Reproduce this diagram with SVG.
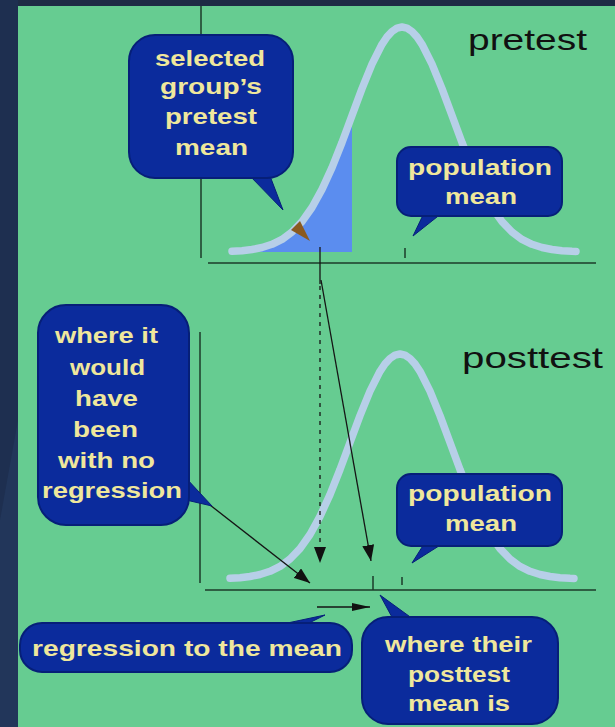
<svg xmlns="http://www.w3.org/2000/svg" xmlns:xlink="http://www.w3.org/1999/xlink" width="615" height="727" viewBox="0 0 615 727">
<style>
.box{fill:#0b2b9c;stroke:#061f78;stroke-width:2}
.tail{fill:#0b2b9c;stroke:#061f78;stroke-width:1}
.lbl{font-family:"Liberation Sans",Arial,sans-serif;font-weight:bold;font-size:22px;fill:#efe79c}
.ttl{font-family:"Liberation Sans",Arial,sans-serif;font-size:29px;fill:#111}
.axis{stroke:#1d3b2a;stroke-width:1.5;fill:none}
.bell{fill:none;stroke:#b7cfe8;stroke-width:7.5;stroke-linejoin:round;stroke-linecap:round}
.conn{stroke:#151515;stroke-width:1.3;fill:none}
</style>
<defs>
<marker id="ah" viewBox="0 0 16 12" refX="16" refY="6" markerWidth="16" markerHeight="12" markerUnits="userSpaceOnUse" orient="auto">
<path d="M0,0 L16,6 L0,12 Z" fill="#111"/>
</marker>
<marker id="ahs" viewBox="0 0 18 8" refX="18" refY="4" markerWidth="18" markerHeight="8" markerUnits="userSpaceOnUse" orient="auto">
<path d="M0,0 L18,4 L0,8 Z" fill="#111"/>
</marker>
<polyline id="bell" class="bell" points="232,251.3 242,250.7 252,249.5 262,247.5 272,244.3 282,239.4 292,232 302,221.6 312,207.5 322,189.4 332,167.6 342,142.5 352,115.5 362,88.6 372,64.1 382,44.3 387,36.9 392,31.5 397,28.1 402,27 407,28.1 412,31.5 417,36.9 422,44.3 432,64.1 442,88.6 452,115.5 462,142.5 472,167.6 482,189.4 492,207.5 502,221.6 512,232 522,239.4 532,244.3 542,247.5 552,249.5 562,250.7 572,251.3 576,251.4"/>
</defs>

<g id="background">
<rect x="0" y="0" width="615" height="727" fill="#66cc91"/>
<rect x="0" y="0" width="615" height="6" fill="#1e2b45"/>
<rect x="0" y="0" width="18" height="727" fill="#1e2f50"/>
<polygon points="0,520 18,420 18,727 0,727" fill="#22365a"/>
</g>

<g id="pretest-chart">
<polygon points="242,252 242,250.7 252,249.5 262,247.5 272,244.3 282,239.4 292,232 302,221.6 312,207.5 322,189.4 332,167.6 342,142.5 352,115.5 352,252" fill="#5b8def"/>
<use xlink:href="#bell" href="#bell"/>
<line class="axis" x1="201" y1="6" x2="201" y2="258"/>
<line class="axis" x1="208" y1="263" x2="596" y2="263"/>
<line class="axis" x1="405" y1="248" x2="405" y2="258"/>
<text class="ttl" x="468" y="50" textLength="119" lengthAdjust="spacingAndGlyphs">pretest</text>
</g>

<g id="posttest-chart">
<use xlink:href="#bell" href="#bell" transform="translate(-2,327)"/>
<line class="axis" x1="200" y1="332" x2="200" y2="583"/>
<line class="axis" x1="205" y1="590" x2="596" y2="590"/>
<line class="axis" x1="373" y1="576" x2="373" y2="590"/>
<line class="axis" x1="402" y1="577" x2="402" y2="585"/>
<text class="ttl" x="462" y="368" textLength="141" lengthAdjust="spacingAndGlyphs">posttest</text>
</g>

<g id="connectors">
<line class="conn" x1="320" y1="247" x2="320" y2="284"/>
<line class="conn" x1="320" y1="286" x2="320" y2="563" stroke-dasharray="4 5" marker-end="url(#ah)"/>
<line class="conn" x1="321" y1="280" x2="371" y2="561" marker-end="url(#ah)"/>
<line class="conn" x1="210" y1="505" x2="310" y2="583" marker-end="url(#ah)"/>
<line class="conn" x1="317" y1="607" x2="370" y2="607" marker-end="url(#ahs)"/>
<polygon points="310,241 291,230 300,221" fill="#8a5a20"/>
</g>

<g id="callout-selected">
<polygon class="tail" points="250,176 270,176 283,210"/>
<rect class="box" x="129" y="35" width="164" height="143" rx="26"/>
<text class="lbl" x="155" y="66" textLength="110" lengthAdjust="spacingAndGlyphs">selected</text>
<text class="lbl" x="160" y="94" textLength="102" lengthAdjust="spacingAndGlyphs">group’s</text>
<text class="lbl" x="165" y="124" textLength="92" lengthAdjust="spacingAndGlyphs">pretest</text>
<text class="lbl" x="175" y="155" textLength="73" lengthAdjust="spacingAndGlyphs">mean</text>
</g>

<g id="callout-pop-pre">
<polygon class="tail" points="424,213 442,213 413,236"/>
<rect class="box" x="397" y="147" width="165" height="69" rx="14"/>
<text class="lbl" x="408" y="175" textLength="144" lengthAdjust="spacingAndGlyphs">population</text>
<text class="lbl" x="445" y="204" textLength="72" lengthAdjust="spacingAndGlyphs">mean</text>
</g>

<g id="callout-pop-post">
<polygon class="tail" points="424,544 442,544 412,563"/>
<rect class="box" x="397" y="474" width="165" height="72" rx="14"/>
<text class="lbl" x="408" y="501" textLength="144" lengthAdjust="spacingAndGlyphs">population</text>
<text class="lbl" x="445" y="531" textLength="72" lengthAdjust="spacingAndGlyphs">mean</text>
</g>

<g id="callout-no-regression">
<polygon class="tail" points="186,478 186,500 212,506"/>
<rect class="box" x="38" y="305" width="151" height="220" rx="28"/>
<text class="lbl" x="55" y="343" textLength="103" lengthAdjust="spacingAndGlyphs">where it</text>
<text class="lbl" x="70" y="375" textLength="75" lengthAdjust="spacingAndGlyphs">would</text>
<text class="lbl" x="75" y="406" textLength="63" lengthAdjust="spacingAndGlyphs">have</text>
<text class="lbl" x="73" y="437" textLength="65" lengthAdjust="spacingAndGlyphs">been</text>
<text class="lbl" x="58" y="468" textLength="97" lengthAdjust="spacingAndGlyphs">with no</text>
<text class="lbl" x="42" y="498" textLength="140" lengthAdjust="spacingAndGlyphs">regression</text>
</g>

<g id="callout-regression">
<polygon class="tail" points="278,625 305,625 325,615"/>
<rect class="box" x="20" y="623" width="332" height="49" rx="22"/>
<text class="lbl" x="32" y="656" textLength="310" lengthAdjust="spacingAndGlyphs">regression to the mean</text>
</g>

<g id="callout-posttest-mean">
<polygon class="tail" points="393,619 413,619 380,595"/>
<rect class="box" x="362" y="617" width="196" height="107" rx="26"/>
<text class="lbl" x="385" y="652" textLength="147" lengthAdjust="spacingAndGlyphs">where their</text>
<text class="lbl" x="408" y="682" textLength="102" lengthAdjust="spacingAndGlyphs">posttest</text>
<text class="lbl" x="408" y="711" textLength="102" lengthAdjust="spacingAndGlyphs">mean is</text>
</g>
</svg>
